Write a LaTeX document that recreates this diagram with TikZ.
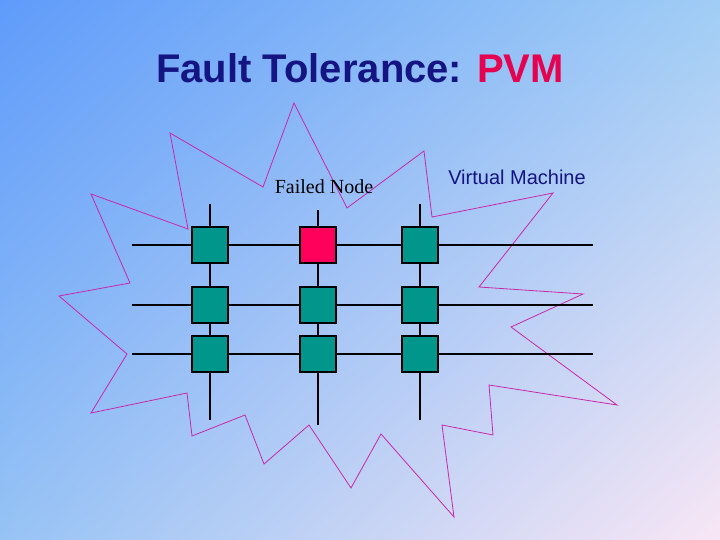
\documentclass[tikz,border=0pt]{standalone}
\usetikzlibrary{shadings}
\usepackage{fontspec}
\setmainfont{Liberation Serif}
\newfontfamily\arialf{Liberation Sans}
\definecolor{tl}{RGB}{95,155,250}
\definecolor{tr}{RGB}{160,205,245}
\definecolor{bl}{RGB}{150,195,245}
\definecolor{br}{RGB}{248,230,245}
\definecolor{navyt}{RGB}{20,20,130}
\definecolor{pvm}{RGB}{230,0,80}
\definecolor{teal2}{RGB}{0,150,140}
\definecolor{failc}{RGB}{255,0,90}
\definecolor{starc}{RGB}{200,40,170}
\tikzset{
 pnode/.style={draw=black,line width=2pt,fill=teal2,minimum size=36pt,inner sep=0pt},
 fnode/.style={pnode,fill=failc},
 wire/.style={line width=2.5pt,black},
}
\begin{document}
\begin{tikzpicture}[x=1pt,y=-1pt]
\shade[upper left=tl,upper right=tr,lower left=bl,lower right=br] (0,0) rectangle (720,540);
\useasboundingbox (0,0) rectangle (720,540);
\node[font=\arialf\bfseries\fontsize{40}{44}\selectfont,text=navyt] (title) at (360,68) {Fault Tolerance: \textcolor{pvm}{PVM}};
\draw[starc,line width=0.8pt] (294,103)--(347,208)--(424,151)--(432,217)--(553,193)--(479,287)--(583,294)--(511,327)--(617,405)--(489,385)--(493,435)--(442,425)--(454,517)--(381,434)--(351,488)--(309,425)--(264,464)--(245,415)--(192,436)--(187,393)--(91,413)--(127,354)--(59,296)--(130,283)--(91,194)--(188,229)--(170,133)--(263,187)--cycle;
\foreach \y/\r in {245/1,305/2,354/3}{
 \coordinate (l\r) at (132,\y); \coordinate (r\r) at (593,\y);
 \draw[wire] (l\r)--(r\r);}
\coordinate (t1) at (210,204); \coordinate (b1) at (210,420);
\coordinate (t2) at (318,210); \coordinate (b2) at (318,425);
\coordinate (t3) at (420,204); \coordinate (b3) at (420,420);
\foreach \i in {1,2,3}{\draw[wire] (t\i)--(b\i);}
\node[pnode] (n11) at (210,245) {}; \node[fnode] (n12) at (318,245) {}; \node[pnode] (n13) at (420,245) {};
\node[pnode] (n21) at (210,305) {}; \node[pnode] (n22) at (318,305) {}; \node[pnode] (n23) at (420,305) {};
\node[pnode] (n31) at (210,354) {}; \node[pnode] (n32) at (318,354) {}; \node[pnode] (n33) at (420,354) {};
\node[font=\fontsize{20}{22}\selectfont] (fl) at (324,187) {Failed Node};
\node[font=\arialf\fontsize{20}{22}\selectfont,text=navyt] (vm) at (517,177) {Virtual Machine};
\end{tikzpicture}
\end{document}
